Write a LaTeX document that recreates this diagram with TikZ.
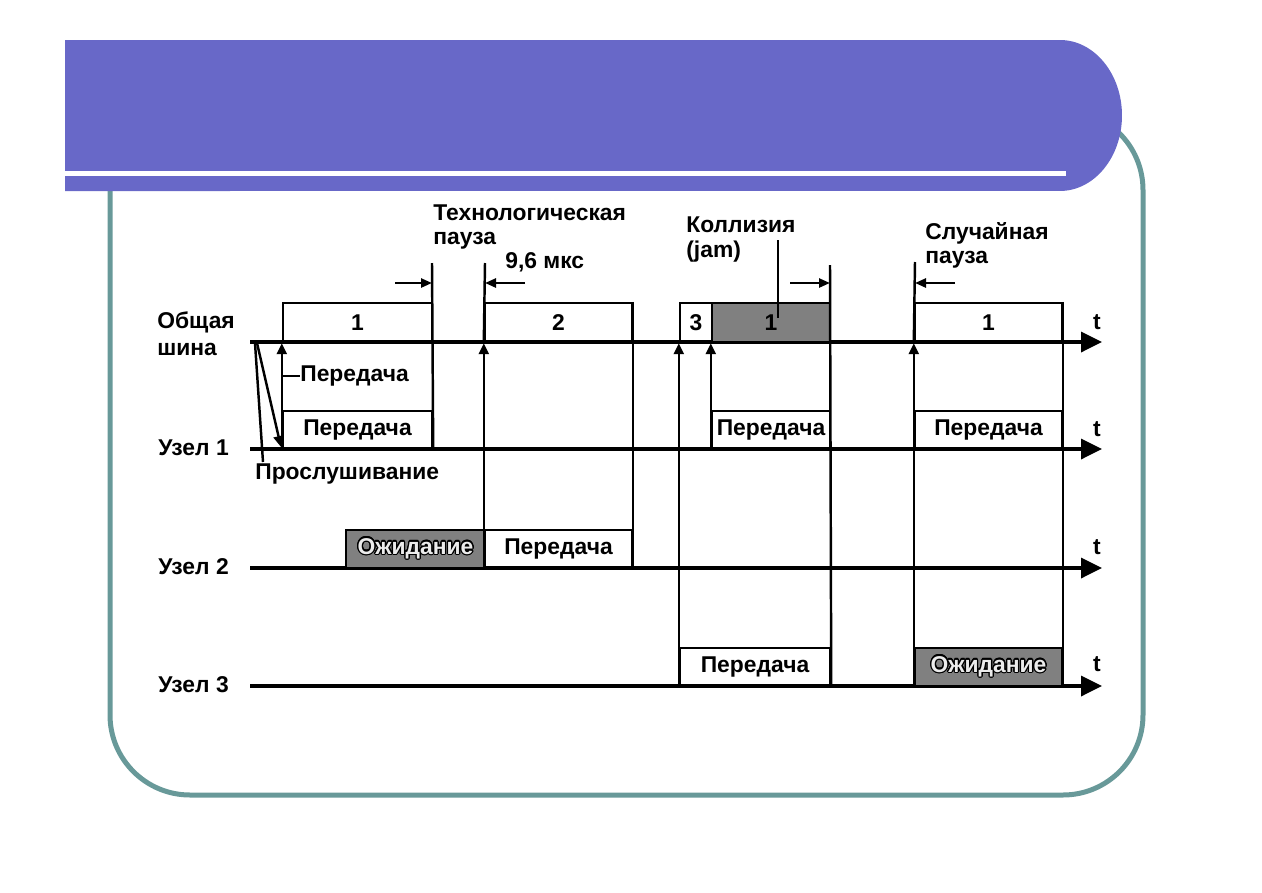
\documentclass[tikz,border=0pt]{standalone}
\usepackage{fontspec}
\setmainfont{Liberation Sans}
\usepackage{contour}
\contourlength{0.7pt}
\usetikzlibrary{arrows.meta,fit}
\definecolor{frameteal}{RGB}{104,153,153}
\definecolor{headblue}{RGB}{104,104,200}
\definecolor{shadegray}{RGB}{128,128,128}
\begin{document}
\begin{tikzpicture}[x=0.02cm,y=-0.02cm,
  lab/.style={font=\fontsize{13}{15}\selectfont\bfseries, inner sep=0pt},
  box/.style={draw=black, line width=1.4pt, inner sep=0pt},
  jambox/.style={box, fill=shadegray},
  axis/.style={line width=2pt, -{Triangle[length=0.42cm,width=0.4cm]}},
  vline/.style={line width=1.4pt},
  up/.style={vline, -{Triangle[length=0.22cm,width=0.2cm]}},
  pausearrow/.style={line width=1.4pt, -{Triangle[length=0.22cm,width=0.18cm]}},
  waittext/.style={lab, text=white!85!gray},
]
\useasboundingbox (0,0) rectangle (1262,893);
% frame
\draw[frameteal, line width=0.1cm, rounded corners=1.6cm] (110,110) rectangle (1143,795);
\fill[headblue] (65,40) -- (1060,40) arc[start angle=90, end angle=-90, x radius=1.24cm, y radius=1.51cm] -- (65,191) -- cycle;
\fill[white] (65,171) rectangle (1066,176);

% axes
\coordinate (bs) at (250,342); \coordinate (be) at (1102,342);
\coordinate (s1) at (250,449); \coordinate (e1) at (1102,449);
\coordinate (s2) at (250,568); \coordinate (e2) at (1102,568);
\coordinate (s3) at (250,686); \coordinate (e3) at (1102,686);
\draw[axis] (bs) -- (be);
\draw[axis] (s1) -- (e1);
\draw[axis] (s2) -- (e2);
\draw[axis] (s3) -- (e3);
\node[lab] (tb) at (1097,322) {t};
\node[lab] (t1) at (1097,429) {t};
\node[lab] (t2) at (1097,547) {t};
\node[lab] (t3) at (1097,664) {t};

% row labels
\node[lab, anchor=west] (lb1) at (157,322) {Общая};
\node[lab, anchor=west] (lb2) at (157,349) {шина};
\node[lab, anchor=west] (ln1) at (158,448) {Узел 1};
\node[lab, anchor=west] (ln2) at (158,567) {Узел 2};
\node[lab, anchor=west] (ln3) at (158,685) {Узел 3};

% bus boxes
\node[box, fit={(283,303) (432,342)}] (b1) {};
\node[box, fit={(485,303) (632,342)}] (b2) {};
\node[box, fit={(680,303) (712,342)}] (b3) {};
\node[jambox, fit={(712,303) (830,342)}] (bj) {};
\node[box, fit={(915,303) (1062,342)}] (b4) {};
\node[lab] (b1t) at (b1.center) {1};
\node[lab] (b2t) at (b2.center) {2};
\node[lab] (b3t) at (b3.center) {3};
\node[lab] (bjt) at (bj.center) {1};
\node[lab] (b4t) at (b4.center) {1};

% node 1 boxes
\node[box, fit={(283,411) (432,449)}] (u1a) {};
\node[box, fit={(712,411) (830,449)}] (u1b) {};
\node[box, fit={(915,411) (1062,449)}] (u1c) {};
\node[lab] (u1at) at (u1a.center) {Передача};
\node[lab] (u1bt) at (u1b.center) {Передача};
\node[lab] (u1ct) at (u1c.center) {Передача};
% node 2 boxes
\node[jambox, fit={(346,530) (485,568)}] (u2w) {};
\node[box, fit={(485,530) (632,568)}] (u2t) {};
\node[waittext] (u2wt) at (u2w.center) {\contour{black}{Ожидание}};
\node[lab] (u2tt) at (u2t.center) {Передача};
% node 3 boxes
\node[box, fit={(680,648) (830,686)}] (u3t) {};
\node[jambox, fit={(915,648) (1062,686)}] (u3w) {};
\node[lab] (u3tt) at (u3t.center) {Передача};
\node[waittext] (u3wt) at (u3w.center) {\contour{black}{Ожидание}};

% vertical lines and arrows
\draw[up] (u1a.south west) -- (b1.south west);
\coordinate (p1) at (432,263);
\draw[vline] (p1) -- (u1a.south east);
\coordinate (p2) at (485,263);
\draw[up] (u2t.south west) -- (b2.south west);
\draw[vline] (b2.south west) -- (p2);
\draw[vline] (b2.north east) -- (u2t.south east);
\draw[up] (u3t.south west) -- (b3.south west);
\draw[up] (u1b.south west) -- (bj.south west);
\coordinate (p3) at (830,265);
\draw[vline] (p3) -- (u3t.south east);
\coordinate (p4) at (915,262);
\draw[up] (u3w.south west) -- (b4.south west);
\draw[vline] (b4.south west) -- (p4);
\draw[vline] (b4.north east) -- (u3w.south east);

% pause arrows
\coordinate (a1) at (395,283); \coordinate (a1e) at (432,283);
\draw[pausearrow] (a1) -- (a1e);
\coordinate (a2) at (525,283); \coordinate (a2e) at (485,283);
\draw[pausearrow] (a2) -- (a2e);
\coordinate (a3) at (790,283); \coordinate (a3e) at (830,283);
\draw[pausearrow] (a3) -- (a3e);
\coordinate (a4) at (955,283); \coordinate (a4e) at (915,283);
\draw[pausearrow] (a4) -- (a4e);

% top annotations
\node[lab, anchor=west] (tp1) at (433,213) {Технологическая};
\node[lab, anchor=west] (tp2) at (433,241) {пауза};
\node[lab, anchor=west] (tp3) at (505,262) {9,6 мкс};
\node[lab, anchor=west] (kc1) at (686,225) {Коллизия};
\node[lab, anchor=west] (kc2) at (686,252) {(jam)};
\coordinate (kp1) at (778,240); \coordinate (kp2) at (778,318);
\draw[vline] (kp1) -- (kp2);
\node[lab, anchor=west] (sp1) at (925,233) {Случайная};
\node[lab, anchor=west] (sp2) at (925,260) {пауза};

% left annotations
\node[lab, anchor=west] (tx) at (300,376) {Передача};
\coordinate (txd) at (283,376);
\draw[vline] (txd) -- (tx.west);
\node[lab, anchor=west] (ls) at (255,474) {Прослушивание};
\coordinate (lt1) at (255,343); \coordinate (lt2) at (257,343);
\coordinate (lsb) at (263,462); \coordinate (lsa) at (281,447);
\draw[vline] (lt1) -- (lsb);
\draw[up] (lt2) -- (lsa);
\end{tikzpicture}
\end{document}
